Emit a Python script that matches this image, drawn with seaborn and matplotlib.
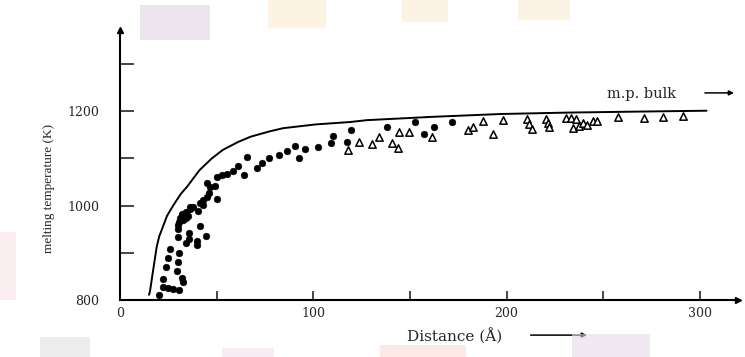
import matplotlib
matplotlib.use("Agg")
import matplotlib.pyplot as plt
from matplotlib.patches import Rectangle
import pandas as pd
import seaborn as sns

# Size-dependent melting temperature of small particles
# Calculated curve
curve_dist = [15.0, 15.5, 17.1, 19.0, 20.3, 21.9, 24.3, 27.5, 31.5, 34.7, 41.1,
              47.5, 53.2, 61.2, 67.6, 77.2, 84.4, 101.3, 118.9, 127.7, 161.4,
              196.7, 231.2, 265.6, 303.4]
curve_temp = [811, 818, 862, 913, 935, 952, 978, 1000, 1025, 1040, 1075, 1100,
              1118, 1135, 1146, 1157, 1164, 1172, 1177, 1181, 1188, 1194, 1197,
              1199, 1201]

# Measured points, first set (filled circles)
dot_dist = [20.3, 22.4, 25.0, 27.3, 30.5, 22.1, 31.9, 32.4, 23.8, 29.6, 25.0,
            30.2, 25.9, 30.7, 34.1, 35.9, 39.7, 40.0, 44.5, 30.2, 35.9, 41.4,
            30.2, 30.2, 30.7, 31.0, 31.9, 34.1, 36.2, 37.6, 32.4, 34.1, 35.3,
            40.5, 41.4, 43.1, 45.2, 46.2, 45.2, 50.3, 46.6, 49.1, 50.0, 52.6,
            55.5, 58.3, 61.2, 64.1, 65.5, 70.7, 73.6, 77.2, 82.4, 86.2,
            90.5, 95.7, 92.8, 102.4, 109.0, 110.3, 117.3, 119.5, 138.1,
            152.4, 157.5, 162.2, 171.6, 36.2, 43.1]
dot_temp = [811, 828, 825, 823, 822, 845, 846, 839, 870, 862, 890,
            881, 909, 900, 921, 929, 924, 917, 936, 934, 943, 957,
            950, 959, 966, 974, 982, 987, 992, 998, 969, 973, 978,
            989, 1006, 1012, 1019, 1026, 1047, 1013, 1040, 1041, 1060, 1065,
            1067, 1074, 1084, 1065, 1102, 1079, 1090, 1101, 1107, 1115,
            1126, 1120, 1101, 1125, 1132, 1148, 1135, 1161, 1167,
            1177, 1152, 1167, 1178, 996, 1001]

# Measured points, second set (open triangles)
tri_dist = [117.8, 123.6, 130.6, 134.1, 140.7, 144.0, 144.3, 149.4, 161.4,
            179.8, 182.6, 187.6, 192.8, 197.9, 210.8, 211.6, 213.2, 220.3,
            221.2, 221.9, 230.5, 233.4, 236.1, 234.3, 237.2, 239.7, 241.7,
            244.5, 246.8, 257.4, 271.1, 281.1, 291.0]
tri_temp = [1117, 1134, 1131, 1145, 1132, 1123, 1155, 1155, 1146,
            1160, 1167, 1180, 1151, 1181, 1184, 1173, 1163, 1184,
            1174, 1166, 1185, 1185, 1184, 1165, 1169, 1176, 1170,
            1179, 1180, 1187, 1185, 1188, 1189]

y_ticks = [800, 900, 1000, 1100, 1200, 1300]
y_tick_labels = ["800", "", "1000", "", "1200", ""]
x_ticks = [0, 50, 100, 150, 200, 250, 300]
x_tick_labels = ["0", "", "100", "", "200", "", "300"]

curve_df = pd.DataFrame({"Distance": curve_dist, "T": curve_temp})
dot_df = pd.DataFrame({"Distance": dot_dist, "T": dot_temp})
tri_df = pd.DataFrame({"Distance": tri_dist, "T": tri_temp})

sns.set_style("ticks")
plt.rcParams["font.family"] = ["DejaVu Serif", "Liberation Serif"]

fig = plt.figure(figsize=(7.45, 3.57), dpi=100)

# faint printed colour flecks on the page
flecks = [
    (140, 5, 70, 35, "#e2d5e4"),
    (268, 0, 58, 28, "#fdebd0"),
    (402, 0, 46, 22, "#fdecd2"),
    (518, 0, 52, 20, "#fdecd2"),
    (572, 334, 78, 23, "#e6dbe8"),
    (380, 345, 86, 12, "#fcd9d5"),
    (222, 348, 52, 9, "#f3e0ec"),
    (40, 337, 50, 20, "#e2e2e2"),
    (0, 232, 16, 68, "#f9e3e6"),
]
for fx, fy, fw, fh, fc in flecks:
    fig.patches.append(Rectangle((fx / 745, 1 - (fy + fh) / 357), fw / 745, fh / 357,
                                 transform=fig.transFigure, facecolor=fc,
                                 edgecolor="none", alpha=0.6, zorder=0))

ax = fig.add_axes([120 / 745, 57 / 357, 618 / 745, 270 / 357])
ax.set_facecolor("none")

sns.lineplot(data=curve_df, x="Distance", y="T", ax=ax, color="black",
             linewidth=1.4, sort=False, estimator=None)
sns.scatterplot(data=dot_df, x="Distance", y="T", ax=ax, marker="o", s=24,
                color="black", edgecolor="black", linewidth=0.3)
sns.scatterplot(data=tri_df, x="Distance", y="T", ax=ax, marker="^", s=28,
                facecolor="white", edgecolor="black", linewidth=1.1)

ax.set_xlim(0, 319.7)
ax.set_ylim(800, 1372)

for side in ("top", "right"):
    ax.spines[side].set_visible(False)
for side in ("left", "bottom"):
    ax.spines[side].set_linewidth(1.5)
    ax.spines[side].set_color("black")

ax.set_yticks(y_ticks)
ax.set_yticklabels(y_tick_labels)
ax.set_xticks(x_ticks)
ax.set_xticklabels(x_tick_labels)
ax.tick_params(axis="y", direction="in", length=10, width=1.2, pad=15,
               labelsize=9)
ax.tick_params(axis="x", direction="in", length=6.5, width=1.2, pad=5,
               labelsize=9)

# arrow heads on the axis ends
ax.plot(1, 0, ">", transform=ax.transAxes, color="black", ms=4, clip_on=False)
ax.plot(0, 1, "^", transform=ax.transAxes, color="black", ms=4, clip_on=False)

ax.set_ylabel("melting temperature (K)", fontsize=9.5,
              family=["Liberation Serif", "DejaVu Serif"])
ax.yaxis.set_label_coords(-0.115, 0.415)
ax.yaxis.label.set_va("center")
ax.set_xlabel("Distance (Å)", fontsize=11)
ax.xaxis.set_label_coords(0.542, -0.135)
ax.xaxis.label.set_va("center")

ax.annotate("", xy=(0.760, -0.130), xytext=(0.660, -0.130),
            xycoords="axes fraction", textcoords="axes fraction",
            arrowprops=dict(arrowstyle="-|>", color="black", lw=1.1,
                            mutation_scale=7), annotation_clip=False)

ax.text(0.844, 0.763, "m.p. bulk", transform=ax.transAxes, ha="center",
        va="center", fontsize=10.5)
ax.annotate("", xy=(0.998, 0.767), xytext=(0.942, 0.767),
            xycoords="axes fraction", textcoords="axes fraction",
            arrowprops=dict(arrowstyle="-|>", color="black", lw=1.1,
                            mutation_scale=7), annotation_clip=False)

fig.savefig("out.png", dpi=100)
